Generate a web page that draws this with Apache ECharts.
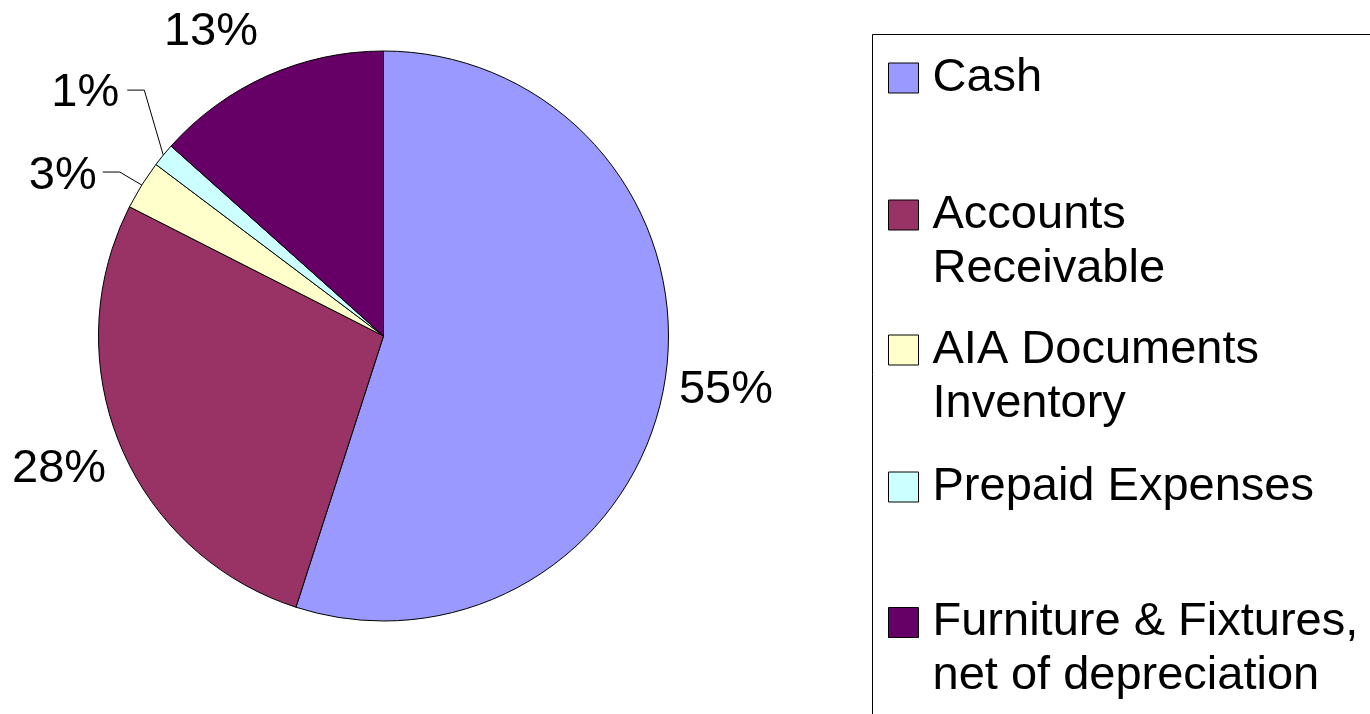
<!DOCTYPE html>
<html>
<head>
<meta charset="utf-8">
<script src="https://cdn.jsdelivr.net/npm/echarts@6/dist/echarts.min.js"></script>
<style>
  html, body { margin: 0; padding: 0; background: #fff; }
  #chart { width: 1370px; height: 714px; }
</style>
</head>
<body>
<div id="chart"></div>
<script>
// ---- data ----
const categories = ['Cash', 'Accounts Receivable', 'AIA Documents Inventory', 'Prepaid Expenses', 'Furniture & Fixtures, net of depreciation'];
const values = [54.97, 27.52, 2.79, 1.33, 13.39];
const legendLabels = ['Cash', 'Accounts\nReceivable', 'AIA Documents\nInventory', 'Prepaid Expenses', 'Furniture & Fixtures,\nnet of depreciation'];
const colors = ['#9999FF', '#993366', '#FFFFCC', '#CCFFFF', '#660066'];

// ---- layout / style ----
const FONT = "'Liberation Sans', Arial, sans-serif";
const withLine = [false, false, true, true, false];
// label adjustments (layout only)
const labelShift = {
  0: { dx: -1, dy: 8.5 },
  1: { dx: 0, dy: 19.5 },
  4: { dx: 0, dy: -34.5 }
};
// leader line bends relative to the slice anchor
const leader = {
  2: { bend: [-22, -13], end: [-39, -13], text: [-45, -9] },
  3: { bend: [-19, -65], end: [-36, -65], text: [-44, -62] }
};
const legendCenters = [78, 215, 350, 487, 622.5];
const PADTOP = 4;

const chart = echarts.init(document.getElementById('chart'), null, { renderer: 'canvas' });

const legends = categories.map(function (name, i) {
  const lbl = legendLabels[i];
  const multi = lbl.indexOf('\n') >= 0;
  const text = multi ? ' \n' + lbl : lbl;
  const H = (multi ? 3 : 1) * 54 + PADTOP;
  return {
    data: [name],
    orient: 'vertical',
    left: 888,
    top: legendCenters[i] - H / 2,
    padding: 0,
    itemWidth: 30,
    itemHeight: 30,
    icon: 'rect',
    selectedMode: false,
    itemStyle: { borderColor: '#000', borderWidth: 1 },
    formatter: function () { return text; },
    textStyle: { fontFamily: FONT, fontSize: 47, lineHeight: 54, color: '#000', padding: [PADTOP, 0, 0, 9] }
  };
});

const option = {
  animation: false,
  backgroundColor: '#fff',
  color: colors,
  legend: legends,
  graphic: [{
    type: 'rect',
    shape: { x: 872.5, y: 34.5, width: 620, height: 720 },
    style: { fill: 'none', stroke: '#000', lineWidth: 1 },
    silent: true
  }],
  series: [{
    type: 'pie',
    center: [383.5, 336],
    radius: 285,
    startAngle: 90,
    clockwise: true,
    avoidLabelOverlap: false,
    itemStyle: { borderColor: '#000', borderWidth: 1 },
    emphasis: { disabled: true },
    label: {
      show: true,
      position: 'outside',
      fontFamily: FONT,
      fontSize: 47,
      lineHeight: 54,
      color: '#000',
      formatter: function (p) { return Math.round(p.percent) + '%'; }
    },
    labelLine: { show: false, length: 10, length2: 0, lineStyle: { color: '#000', width: 1 } },
    labelLayout: function (p) {
      const i = p.dataIndex;
      if (leader[i] && p.labelLinePoints) {
        const a = p.labelLinePoints[0];
        const L = leader[i];
        return {
          x: a[0] + L.text[0],
          y: a[1] + L.text[1],
          align: 'right',
          verticalAlign: 'middle',
          labelLinePoints: [a, [a[0] + L.bend[0], a[1] + L.bend[1]], [a[0] + L.end[0], a[1] + L.end[1]]]
        };
      }
      return labelShift[i] || {};
    },
    data: categories.map(function (name, i) {
      return {
        name: name,
        value: values[i],
        labelLine: { show: withLine[i] }
      };
    })
  }]
};

chart.setOption(option);
</script>
</body>
</html>
